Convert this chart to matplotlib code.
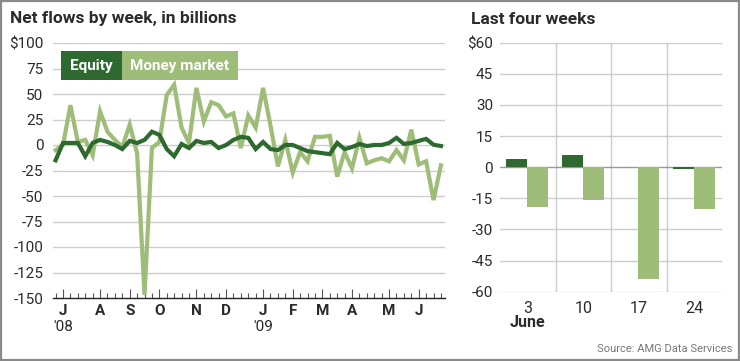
import matplotlib
matplotlib.use("Agg")
import matplotlib.pyplot as plt
from matplotlib.patches import Rectangle
from matplotlib.transforms import blended_transform_factory
import numpy as np

# ---------------- data ----------------
equity = [-15, 2, 2, 2, -11, 2, 5, 3, 0, -4, 4, 2, 5, 13, 10, -4, -11, 1, -3, 4,
          2, 3, -3, 0, 5, 8, 7, -4, 3, -4, -5, 0, 0, -3, -6, -7, -8, -9, 2, -4,
          -2, 1, -1, 0, 0, 2, 7, 1, 2, 4, 6, 0.3, -1]
money_market = [-5, 0, 39, 3, 5, -10, 33, 13, 5, -2, 20, -8, -147, -3, 3, 49, 59, 17, 2, 56,
                23, 42, 39, 28, 31, -3, 29, 17, 56, 19, -21, 5, -27, -7, -16, 8, 8, 9, -31, -7,
                -23, 7, -18, -15, -13, -16, -5, -15, 15, -19, -16, -54, -20]
month_labels = ['J', 'A', 'S', 'O', 'N', 'D', 'J', 'F', 'M', 'A', 'M', 'J']
month_tick_idx = [1, 6, 10, 14, 19, 23, 28, 32, 36, 40, 45, 49]
year_labels = ["'08", "'09"]
year_tick_idx = [1, 28]
left_yticks = [100, 75, 50, 25, 0, -25, -50, -75, -100, -125, -150]

week_labels = ['3', '10', '17', '24']
last_equity = [4, 6, 0.3, -1]
last_money = [-19, -16, -54, -20]
right_yticks = [60, 45, 30, 15, 0, -15, -30, -45, -60]

# ---------------- style ----------------
EQ = '#2e6a30'
MM = '#9dbd78'
GRID = '#cccccc'
TXT = '#2b2b2b'
FONT = ['Roboto', 'DejaVu Sans']
plt.rcParams['font.family'] = FONT

W, H = 740, 361
fig = plt.figure(figsize=(W / 100, H / 100), dpi=100)
fig.patch.set_facecolor('white')

def fx(px):
    return px / W

def fy(py):
    return 1 - py / H

# border
fig.patches.append(Rectangle((fx(1), fy(360)), fx(738), 359 / H, transform=fig.transFigure,
                             fill=False, edgecolor='#8a8a8a', linewidth=1.6))

# ---------------- left chart ----------------
axL = fig.add_axes([fx(53), fy(298), fx(392), 255 / H])
x = np.arange(len(equity))
axL.set_xlim(-0.35, 52.55)
axL.set_ylim(-150, 100)
for v in left_yticks[:-1]:
    axL.axhline(v, color=GRID, lw=1.0, zorder=0)
axL.plot(x, money_market, color=MM, lw=3.0, solid_joinstyle='miter', zorder=2)
axL.plot(x, equity, color=EQ, lw=3.0, solid_joinstyle='miter', zorder=3)
for s in ['top', 'right', 'left']:
    axL.spines[s].set_visible(False)
axL.spines['bottom'].set_color('#222222')
axL.spines['bottom'].set_linewidth(1.0)
axL.set_yticks(left_yticks)
axL.set_yticklabels(['$100'] + [str(v) for v in left_yticks[1:]], fontsize=11, color=TXT)
axL.tick_params(axis='y', length=0, pad=7)
axL.set_xticks(month_tick_idx)
axL.set_xticklabels(month_labels, fontsize=11, fontweight='bold', color=TXT)
axL.set_xticks(x, minor=True)
axL.tick_params(axis='x', which='major', direction='in', length=6.5, width=0.8, color='#555555', pad=4)
axL.tick_params(axis='x', which='minor', direction='in', length=3.5, width=0.8, color='#555555')
tr = blended_transform_factory(axL.transData, axL.transAxes)
for lab, idx in zip(year_labels, year_tick_idx):
    axL.text(idx, -0.085, lab, transform=tr, ha='center', va='top', fontsize=11, color=TXT)

fig.text(fx(10), fy(19), 'Net flows by week, in billions', fontsize=12.5, fontweight='bold',
         color=TXT, ha='left', va='center')

# legend boxes
fig.patches.append(Rectangle((fx(61), fy(80)), fx(61), 29 / H, transform=fig.transFigure,
                             facecolor=EQ, edgecolor='none', zorder=5))
fig.patches.append(Rectangle((fx(122), fy(80)), fx(116), 29 / H, transform=fig.transFigure,
                             facecolor=MM, edgecolor='none', zorder=5))
fig.text(fx(91.5), fy(66), 'Equity', fontsize=11, fontweight='bold', color='white',
         ha='center', va='center', zorder=6)
fig.text(fx(180), fy(66), 'Money market', fontsize=11, fontweight='bold', color='white',
         ha='center', va='center', zorder=6)

# ---------------- right chart ----------------
axR = fig.add_axes([fx(500), fy(291.7), fx(222), 249 / H])
xc = np.arange(len(week_labels)) + 0.5
axR.set_xlim(0, 4)
axR.set_ylim(-60, 60)
for v in right_yticks:
    if v != 0:
        axR.axhline(v, color=GRID, lw=1.0, zorder=0)
for b in [1, 2, 3]:
    axR.axvline(b, color=GRID, lw=1.0, zorder=0)
axR.axhline(0, color='#999999', lw=1.0, zorder=1)
axR.bar(xc - 0.2, last_equity, width=0.38, color=EQ, zorder=2)
axR.bar(xc + 0.18, last_money, width=0.38, color=MM, zorder=2)
for s in axR.spines.values():
    s.set_visible(False)
axR.set_yticks(right_yticks)
axR.set_yticklabels(['$60'] + [str(v) for v in right_yticks[1:]], fontsize=11, color=TXT)
axR.tick_params(axis='y', length=0, pad=5)
axR.set_xticks(xc)
axR.set_xticklabels(week_labels, fontsize=11.5, color=TXT)
axR.tick_params(axis='x', length=0, pad=7)
trR = blended_transform_factory(axR.transData, axR.transAxes)
axR.text(xc[0], -0.095, 'June', transform=trR, ha='center', va='top', fontsize=11.5,
         fontweight='bold', color=TXT)

fig.text(fx(471), fy(19), 'Last four weeks', fontsize=12.5, fontweight='bold',
         color=TXT, ha='left', va='center')
fig.text(fx(732), fy(349), 'Source: AMG Data Services', fontsize=8, color='#777777',
         ha='right', va='center')

fig.savefig('out.png', dpi=100, facecolor='white')
